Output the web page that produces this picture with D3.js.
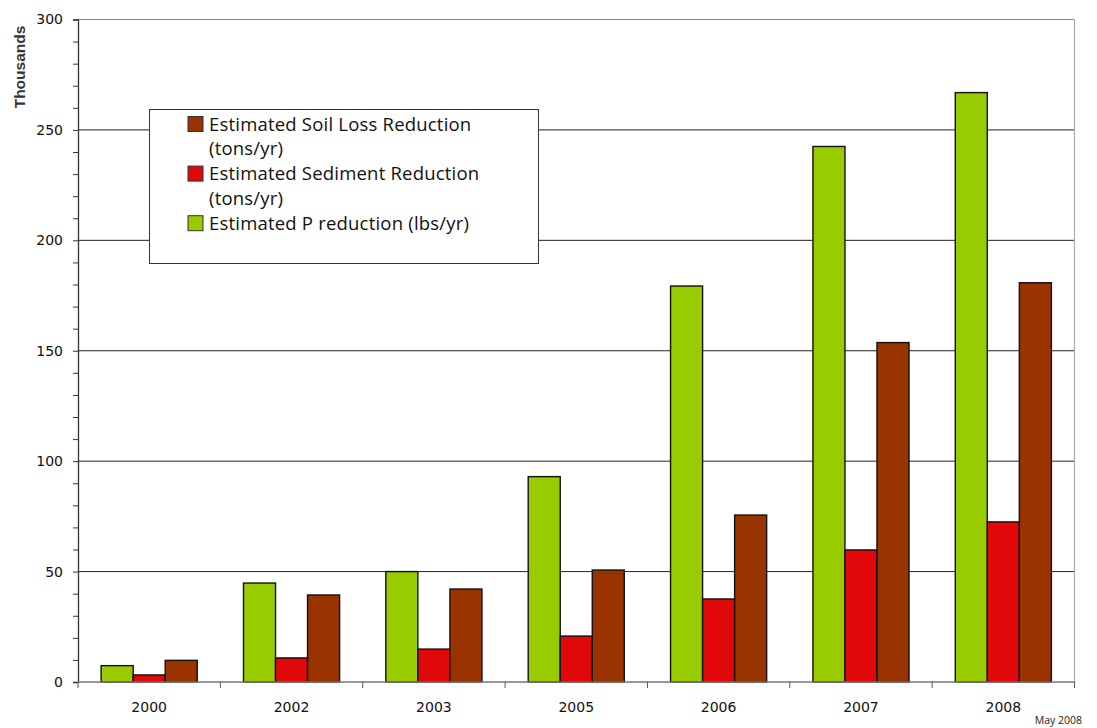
<!DOCTYPE html>
<html><head><meta charset="utf-8">
<script src="https://cdn.jsdelivr.net/npm/d3@7/dist/d3.min.js"></script>
<style>body{margin:0;background:#fff}svg{display:block}</style>
</head><body>
<svg id="c" width="1097" height="728"></svg>
<script>
const years = ["2000","2002","2003","2005","2006","2007","2008"];
const pReduction = [7.4, 44.8, 50.0, 93.0, 179.3, 242.5, 266.9];
const sedimentReduction = [3.2, 10.9, 14.9, 20.8, 37.6, 59.8, 72.5];
const soilLossReduction = [9.8, 39.4, 42.1, 50.7, 75.6, 153.7, 180.8];
const yTicks = [0, 50, 100, 150, 200, 250, 300];
const legendLines = [["Estimated Soil Loss Reduction","(tons/yr)"],["Estimated Sediment Reduction","(tons/yr)"],["Estimated P reduction (lbs/yr)"]];
const colors = ["#99cc00", "#e00808", "#993300"];

const series = [pReduction, sedimentReduction, soilLossReduction];
const svg = d3.select("#c");
const L = 78, R = 1074.5, T = 19.5, B = 682;
const x = d3.scaleBand().domain(years).range([L, R]).paddingInner(0.325).paddingOuter(0.1625);
const xs = d3.scaleBand().domain([0,1,2]).range([0, x.bandwidth()]);
const y = d3.scaleLinear().domain([0, 300]).range([B, T]);

// gridlines
svg.append("g").selectAll("line").data(yTicks.slice(1)).join("line")
  .attr("x1", L).attr("x2", R).attr("y1", d => y(d)).attr("y2", d => y(d))
  .attr("stroke", d => d === 300 ? "#888" : "#222").attr("stroke-width", 1);
// right border
svg.append("line").attr("x1", R).attr("x2", R).attr("y1", T).attr("y2", B).attr("stroke", "#aaa").attr("stroke-width", 1.2);

// bars
const g = svg.append("g");
years.forEach((yr, i) => {
  series.forEach((s, j) => {
    g.append("rect")
      .attr("x", x(yr) + xs(j))
      .attr("y", y(s[i]))
      .attr("width", xs.bandwidth())
      .attr("height", B - y(s[i]))
      .attr("fill", colors[j])
      .attr("stroke", "#111").attr("stroke-width", 1.4);
  });
});

// y axis
const ya = svg.append("g").attr("transform", `translate(${L},0)`)
  .call(d3.axisLeft(y).tickValues(d3.range(0, 301, 10)).tickSize(5)
    .tickFormat(d => d % 50 === 0 ? d : ""));
ya.select(".domain").attr("stroke", "#333").attr("stroke-width", 1.3);
ya.selectAll(".tick line").attr("stroke", "#333");
ya.selectAll(".tick text").attr("font-family", "DejaVu Sans, Verdana, sans-serif").attr("font-size", 14).attr("fill", "#111").attr("x", -15);

// x axis
const xa = svg.append("g").attr("transform", `translate(0,${B})`);
xa.append("line").attr("x1", L).attr("x2", R).attr("stroke", "#777").attr("stroke-width", 1.3);
const bounds = d3.range(0, years.length + 1).map(i => L + i * x.step());
xa.selectAll("line.t").data(bounds).join("line").attr("class", "t")
  .attr("x1", d => d).attr("x2", d => d).attr("y1", 0).attr("y2", 6).attr("stroke", "#555");
xa.selectAll("text").data(years).join("text")
  .attr("x", d => x(d) + x.bandwidth() / 2).attr("y", 30)
  .attr("text-anchor", "middle").attr("font-family", "DejaVu Sans, Verdana, sans-serif")
  .attr("font-size", 14).attr("fill", "#111").text(d => d);

// y title
svg.append("text").attr("transform", "translate(24.5,67) rotate(-90)")
  .attr("text-anchor", "middle").attr("font-family", "Liberation Sans, Arial, sans-serif")
  .attr("font-weight", "bold").attr("font-size", 15.5).attr("fill", "#333").text("Thousands");

// footnote
svg.append("text").attr("x", 1082).attr("y", 724).attr("text-anchor", "end")
  .attr("font-family", "Open Sans, sans-serif").attr("font-size", 10.5).attr("fill", "#222").text("May 2008");

// legend
const lg = svg.append("g");
lg.append("rect").attr("x", 149.5).attr("y", 109.5).attr("width", 389).attr("height", 154)
  .attr("fill", "#fff").attr("stroke", "#333").attr("stroke-width", 1);
const legColors = [colors[2], colors[1], colors[0]];
let ly = 124;
legendLines.forEach((lines, k) => {
  lg.append("rect").attr("x", 188).attr("y", ly - 7.5).attr("width", 15).attr("height", 15)
    .attr("fill", legColors[k]).attr("stroke", "#333").attr("stroke-width", 1);
  lines.forEach((t, m) => {
    lg.append("text").attr("x", 209).attr("y", ly + 6.5).attr("font-family", "Open Sans, sans-serif")
      .attr("font-size", 18.5).attr("letter-spacing", 0.2).attr("fill", "#111").text(t);
    ly += 24.8;
  });
});
</script>
</body></html>
